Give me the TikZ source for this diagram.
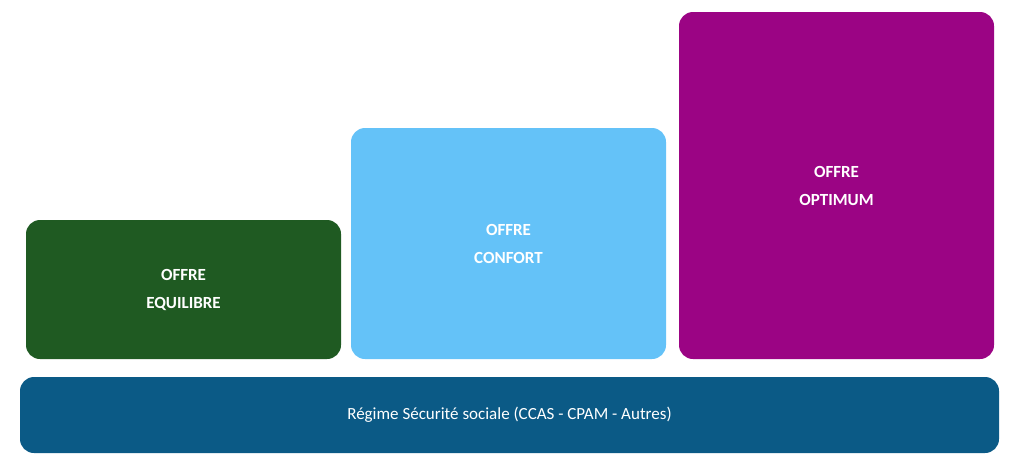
\documentclass[tikz,border=0pt]{standalone}
\usepackage{fontspec}
\setmainfont{Carlito}
\usetikzlibrary{positioning}
\definecolor{vert}{HTML}{1F5A22}
\definecolor{ciel}{HTML}{64C2F8}
\definecolor{prune}{HTML}{9B0484}
\definecolor{ocean}{HTML}{0B5A86}
\tikzset{offre/.style={rounded corners=14pt,inner sep=0pt,text=white,align=center,
  font=\fontsize{17}{28}\selectfont\bfseries}}
\tikzset{socle/.style={rounded corners=14pt,inner sep=0pt,text=white,
  font=\fontsize{17}{20}\selectfont}}
\begin{document}
\begin{tikzpicture}[x=1pt,y=-1pt]
  \useasboundingbox (0,0) rectangle (1030,469);
  \node [offre,fill=vert,minimum width=315pt,minimum height=139pt] (eq) at (183.5,289.5) {OFFRE\\EQUILIBRE};
  \node [offre,fill=ciel,minimum width=315pt,minimum height=231pt] (co) at (508.5,243.5) {OFFRE\\CONFORT};
  \node [offre,fill=prune,minimum width=315pt,minimum height=347pt] (op) at (836.5,185.5) {OFFRE\\OPTIMUM};
  \node [socle,fill=ocean,minimum width=979pt,minimum height=76pt] (rs) at (509.5,415) {Régime Sécurité sociale (CCAS - CPAM - Autres)};
\end{tikzpicture}
\end{document}
